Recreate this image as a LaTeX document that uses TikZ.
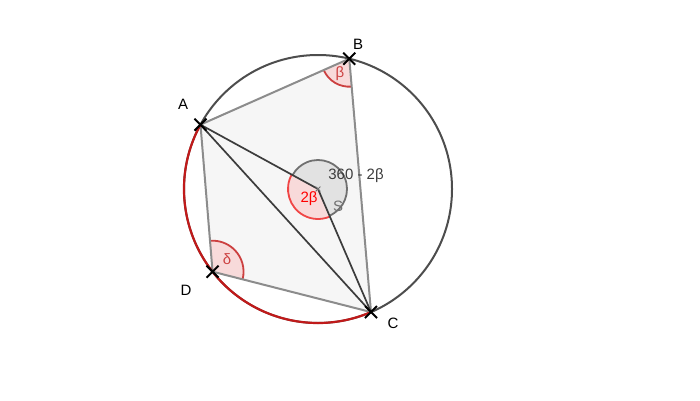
\documentclass[tikz,border=0pt]{standalone}
\usepackage{fontspec}
\setmainfont{Liberation Sans}
\usetikzlibrary{angles,shapes.misc}
\definecolor{circgray}{RGB}{77,77,77}
\definecolor{arcred}{RGB}{192,26,26}
\definecolor{quadgray}{RGB}{140,140,140}
\definecolor{quadfill}{RGB}{246,246,246}
\definecolor{linegray}{RGB}{60,60,60}
\definecolor{angred}{RGB}{204,64,64}
\definecolor{angbright}{RGB}{240,70,70}
\definecolor{angpink}{RGB}{248,218,218}
\definecolor{anggray}{RGB}{112,112,112}
\definecolor{anglight}{RGB}{226,226,226}
\begin{document}
\begin{tikzpicture}[x=1pt, y=1pt,
    every node/.style = {font=\fontsize{15}{17}\selectfont},
    pt/.style = {draw, cross out, minimum size=10pt, inner sep=0pt, line width=2pt},
    edge/.style = {draw=quadgray, line width=2pt},
    radial/.style = {draw=linegray, line width=1.7pt},
    redang/.style = {draw=angred, fill=angpink, line width=1.8pt}]
    \useasboundingbox (0,0) rectangle (700,400);

    \coordinate (S) at (318,211);
    \path (S) ++(151.3:134) coordinate (A);
    \path (S) ++(76.5:134) coordinate (B);
    \path (S) ++(293.3:134) coordinate (C);
    \path (S) ++(218.1:134) coordinate (D);

    % quadrilateral
    \fill[quadfill] (A) -- (B) -- (C) -- (D) -- cycle;

    % angles
    \pic[redang, angle radius=28pt] {angle = A--B--C};
    \pic[redang, angle radius=31pt] {angle = C--D--A};
    \pic[draw=anggray, fill=anglight, line width=1.8pt, angle radius=29pt] {angle = C--S--A};
    \pic[draw=angbright, fill=angpink, line width=1.8pt, angle radius=30pt] {angle = A--S--C};

    \draw[edge] (A) -- (B) -- (C) -- (D) -- cycle;

    % circle
    \draw[circgray, line width=2pt] (S) circle[radius=134];
    \draw[arcred, line width=2.2pt] (A) arc[start angle=151.3, end angle=293.3, radius=134];

    \draw[radial] (A) -- (S) -- (C);
    \draw[radial] (A) -- (C);

    \node[pt] at (A) {};
    \node[pt] at (B) {};
    \node[pt] at (C) {};
    \node[pt] at (D) {};
    \node[draw=anggray, cross out, minimum size=4pt, inner sep=0pt, line width=0.8pt] at (S) {};

    \node (la) at (183,296) {A};
    \node (lb) at (358,356) {B};
    \node (lc) at (393,77) {C};
    \node (ld) at (186,110) {D};
    \node[text=angred] (beta) at (340,326) {β};
    \node[text=angred] (delta) at (227,141) {δ};
    \node[text=red] (twobeta) at (309,201) {2β};
    \node[text=linegray] (rest) at (356,224) {360 - 2β};
    \node[text=anggray] (ls) at (338,194) {S};
\end{tikzpicture}
\end{document}
